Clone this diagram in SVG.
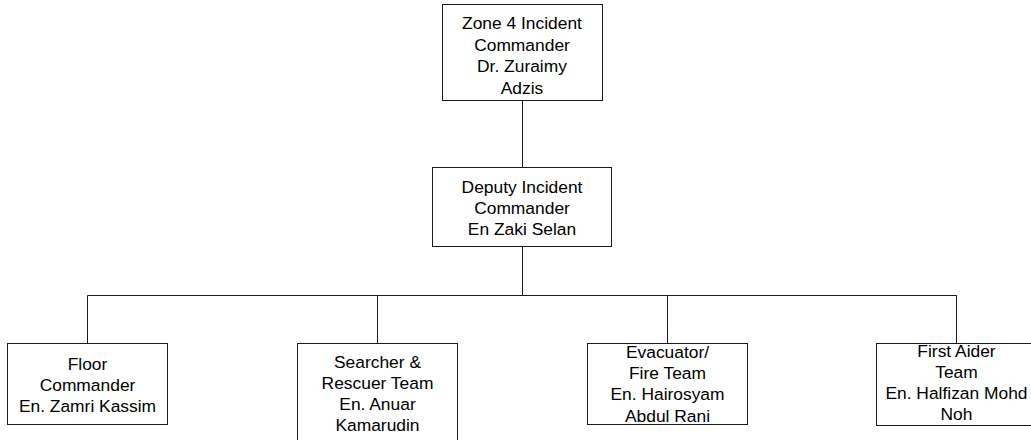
<svg xmlns="http://www.w3.org/2000/svg" width="1031" height="440" viewBox="0 0 1031 440">
<style>
.box{fill:#fff;stroke:#1a1a1a;stroke-width:1}
.ln{fill:none;stroke:#1a1a1a;stroke-width:1}
text{font-family:"Liberation Sans",Arial,sans-serif;font-size:17.4px;fill:#000;text-anchor:middle}
</style>
<rect width="1031" height="440" fill="#fff"/>
<g id="connectors">
<path class="ln" d="M522.5 101 V167.5"/>
<path class="ln" d="M522.5 247 V295.5"/>
<path class="ln" d="M87.5 295.5 H956.5"/>
<path class="ln" d="M87.5 295.5 V343"/>
<path class="ln" d="M377.5 295.5 V343"/>
<path class="ln" d="M667.5 295.5 V343"/>
<path class="ln" d="M956.5 295.5 V343"/>
</g>
<g id="n-commander">
<rect class="box" x="442.5" y="4.5" width="160" height="96"/>
<text x="522" y="29">Zone 4 Incident</text>
<text x="522" y="50.5">Commander</text>
<text x="522" y="72">Dr. Zuraimy</text>
<text x="522" y="93.5">Adzis</text>
</g>
<g id="n-deputy">
<rect class="box" x="432.5" y="167.5" width="179" height="79"/>
<text x="522" y="193">Deputy Incident</text>
<text x="522" y="214">Commander</text>
<text x="522" y="235">En Zaki Selan</text>
</g>
<g id="n-floor">
<rect class="box" x="7.5" y="343.5" width="160" height="81"/>
<text x="87.5" y="370">Floor</text>
<text x="87.5" y="391">Commander</text>
<text x="87.5" y="411.5">En. Zamri Kassim</text>
</g>
<g id="n-searcher">
<rect class="box" x="297.5" y="343.5" width="160" height="100"/>
<text x="377.5" y="368">Searcher &amp;</text>
<text x="377.5" y="389">Rescuer Team</text>
<text x="377.5" y="410">En. Anuar</text>
<text x="377.5" y="431">Kamarudin</text>
</g>
<g id="n-evacuator">
<rect class="box" x="587.5" y="343.5" width="160" height="81"/>
<text x="667.5" y="358">Evacuator/</text>
<text x="667.5" y="379">Fire Team</text>
<text x="667.5" y="400">En. Hairosyam</text>
<text x="667.5" y="422">Abdul Rani</text>
</g>
<g id="n-firstaid">
<rect class="box" x="876.5" y="343.5" width="160" height="82"/>
<text x="956.5" y="356.5">First Aider</text>
<text x="956.5" y="378">Team</text>
<text x="956.5" y="399">En. Halfizan Mohd</text>
<text x="956.5" y="420">Noh</text>
</g>
</svg>
